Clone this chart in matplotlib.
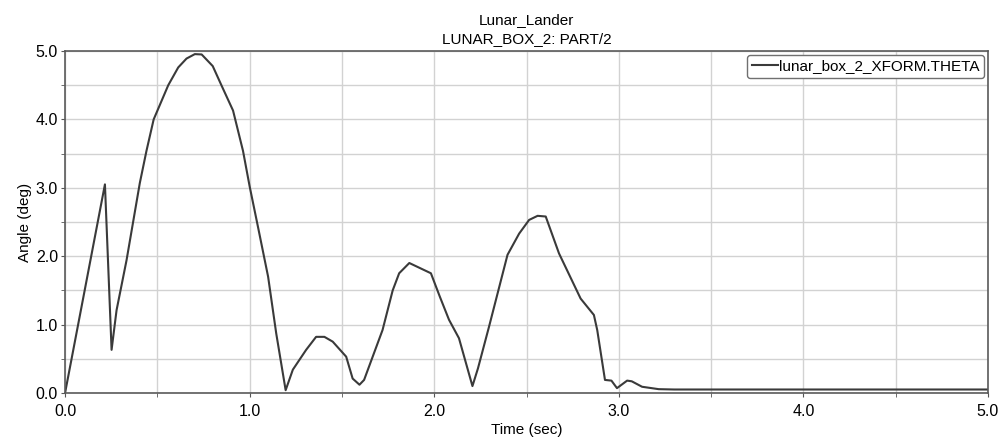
import matplotlib
matplotlib.use("Agg")
import matplotlib.pyplot as plt
from matplotlib.ticker import MultipleLocator

# time (sec) and angle (deg)
time = [0.0, 0.216, 0.252, 0.279, 0.333, 0.405, 0.441, 0.48, 0.559, 0.613,
        0.658, 0.703, 0.74, 0.80, 0.847, 0.91, 0.964, 1.0, 1.045, 1.1, 1.144,
        1.195, 1.234, 1.306, 1.36, 1.405, 1.45, 1.523, 1.558, 1.595, 1.62,
        1.72, 1.775, 1.81, 1.865, 1.982, 2.03, 2.08, 2.134, 2.207, 2.237,
        2.297, 2.397, 2.46, 2.514, 2.56, 2.604, 2.676, 2.793, 2.865, 2.883,
        2.925, 2.96, 2.99, 3.045, 3.07, 3.126, 3.216, 3.3, 5.0]
theta = [0.0, 3.05, 0.63, 1.21, 1.94, 3.07, 3.54, 4.0, 4.5, 4.76,
         4.89, 4.955, 4.95, 4.78, 4.5, 4.13, 3.54, 3.02, 2.43, 1.70, 0.87,
         0.04, 0.34, 0.63, 0.82, 0.82, 0.75, 0.53, 0.21, 0.12, 0.19,
         0.92, 1.5, 1.75, 1.90, 1.75, 1.41, 1.07, 0.80, 0.10, 0.36,
         0.97, 2.02, 2.33, 2.53, 2.59, 2.58, 2.04, 1.38, 1.14, 0.92,
         0.19, 0.18, 0.07, 0.18, 0.17, 0.09, 0.055, 0.05, 0.05]

plt.rcParams['font.family'] = ['Liberation Sans', 'DejaVu Sans']

fig = plt.figure(figsize=(10.01, 4.4), dpi=100)
ax = fig.add_axes([0.065, 0.107, 0.922, 0.777])

ax.plot(time, theta, color='#3a3a3a', lw=1.5, label='lunar_box_2_XFORM.THETA')

ax.set_xlim(0, 5)
ax.set_ylim(0, 5)
ax.xaxis.set_major_locator(MultipleLocator(1.0))
ax.xaxis.set_minor_locator(MultipleLocator(0.5))
ax.yaxis.set_major_locator(MultipleLocator(1.0))
ax.yaxis.set_minor_locator(MultipleLocator(0.5))
ax.xaxis.set_major_formatter(plt.FormatStrFormatter('%.1f'))
ax.yaxis.set_major_formatter(plt.FormatStrFormatter('%.1f'))
ax.grid(True, which='both', color='#d2d2d2', lw=1.0)
ax.set_axisbelow(True)
ax.tick_params(which='both', direction='out', length=3, color='#555555',
               labelsize=11.5)
ax.tick_params(axis='x', pad=5)
ax.tick_params(axis='y', pad=2)
for s in ax.spines.values():
    s.set_color('#5a5a5a')
    s.set_linewidth(1.2)

ax.set_xlabel('Time (sec)', fontsize=11, labelpad=3)
ax.set_ylabel('Angle (deg)', fontsize=11, labelpad=3)
ax.set_title('Lunar_Lander\nLUNAR_BOX_2: PART/2', fontsize=11, pad=6,
             linespacing=1.45)

leg = ax.legend(loc='upper right', fontsize=11, handlelength=1.7,
                handletextpad=0.1, borderpad=0.3, borderaxespad=0.25,
                fancybox=True, framealpha=1)
leg.get_frame().set_edgecolor('#707070')
leg.get_frame().set_linewidth(1.0)

fig.savefig('out.png', dpi=100)
